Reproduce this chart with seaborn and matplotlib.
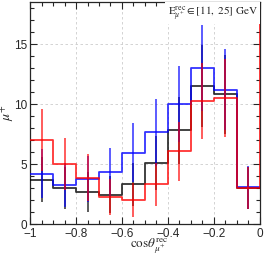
# -----------------------------------------------------------------
# mu+ cos(theta) distribution, E in [11, 25] GeV
# -----------------------------------------------------------------
import numpy as np
import pandas as pd
import seaborn as sns
from matplotlib import pyplot as plt

sns.set_style("ticks")
plt.rcParams["font.family"] = ["Liberation Sans", "DejaVu Sans"]
plt.rcParams["mathtext.fontset"] = "stix"

# bin edges (10 bins in cos theta)
edges = [-1.0, -0.9, -0.8, -0.7, -0.6, -0.5, -0.4, -0.3, -0.2, -0.1, 0.0]
centers = [-0.95, -0.85, -0.75, -0.65, -0.55, -0.45, -0.35, -0.25, -0.15, -0.05]

# values
black_vals = [3.7, 3.0, 2.65, 2.45, 3.3, 5.05, 7.8, 11.5, 10.8, 3.0]
black_errs = [1.9, 1.75, 1.65, 1.55, 1.8, 2.25, 2.8, 3.4, 3.3, 1.75]
blue_vals = [4.2, 3.25, 3.75, 4.3, 5.95, 7.65, 10.0, 13.0, 11.2, 3.05]
blue_errs = [2.05, 1.8, 1.95, 2.05, 2.45, 2.8, 3.15, 3.6, 3.35, 1.75]
red_vals = [7.0, 5.0, 3.85, 2.25, 2.0, 3.3, 6.05, 10.25, 10.5, 3.0]
red_errs = [2.6, 2.2, 1.95, 1.5, 1.4, 1.8, 2.45, 3.2, 3.25, 1.75]
# red has an off-scale overflow bin beyond cos = 0
red_overflow = 25.0
overflow_edge = 0.1
overflow_center = 0.05

# -----------------------------------------------------------------
# figure
# -----------------------------------------------------------------
fig = plt.figure(figsize=(2.66, 2.57), dpi=100)
ax = fig.add_axes([0.113, 0.128, 0.864, 0.864])

series = [
    ("black", black_vals, black_errs),
    ("blue", blue_vals, blue_errs),
    ("red", red_vals, red_errs),
]

for color, vals, errs in series:
    df = pd.DataFrame({"x": centers, "w": vals})
    bins = edges
    if color == "red":
        df = pd.concat(
            [df, pd.DataFrame({"x": [overflow_center], "w": [red_overflow]})],
            ignore_index=True,
        )
        bins = edges + [overflow_edge]
    sns.histplot(
        data=df,
        x="x",
        weights="w",
        bins=bins,
        element="step",
        fill=False,
        color=color,
        linewidth=1.3,
        alpha=0.8,
        zorder=3,
        ax=ax,
    )
    ax.errorbar(
        centers, vals, yerr=errs, fmt="none", ecolor=color, elinewidth=1.2,
        alpha=0.75, zorder=3,
    )

# 軸の設定
ax.set_xlim(-1, 0)
ax.set_ylim(0, 18.5)
ax.set_xticks(np.arange(-1, 0.01, 0.2))
ax.set_xticklabels(["\u22121", "\u22120.8", "\u22120.6", "\u22120.4", "\u22120.2", "0"])
ax.set_xticks(np.arange(-1, 0.01, 0.05), minor=True)
ax.set_yticks([0, 5, 10, 15])
ax.set_yticks(np.arange(0, 18.5, 1), minor=True)
ax.tick_params(
    which="both", direction="in", top=True, right=True, labelsize=8.5, pad=2
)
ax.tick_params(axis="x", which="major", pad=3)
ax.tick_params(which="major", length=5, width=0.8)
ax.tick_params(which="minor", length=2.8, width=0.8)
ax.grid(True, which="major", linestyle=(0, (3, 3)), color="#cccccc", linewidth=0.6)
for s in ax.spines.values():
    s.set_linewidth(0.9)

ax.set_xlabel(r"$\mathrm{cos}\theta^{\mathrm{rec}}_{\mu^{+}}$", fontsize=9.5)
ax.xaxis.set_label_coords(0.52, -0.06)
ax.set_ylabel(r"$\mu^{+}$", fontsize=10)
ax.yaxis.set_label_coords(-0.06, 0.5)

ax.text(
    0.99,
    0.99,
    r"$\mathrm{E}^{\mathrm{rec}}_{\mu^{+}} \in [11,\ 25]\ \mathrm{GeV}$",
    transform=ax.transAxes,
    ha="right",
    va="top",
    fontsize=8,
    zorder=10,
    bbox=dict(facecolor="white", edgecolor="none", pad=1.5),
)

plt.savefig("out.png", dpi=100)
